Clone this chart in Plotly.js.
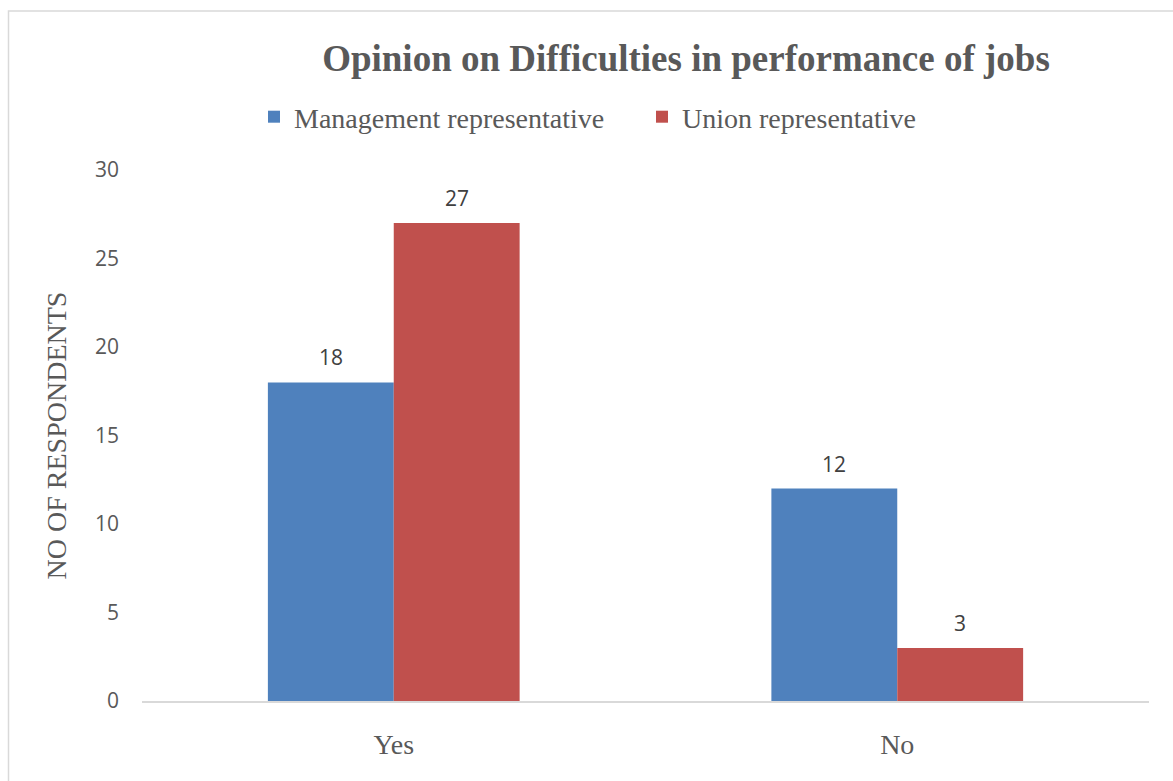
<!DOCTYPE html>
<html>
<head>
<meta charset="utf-8">
<script src="https://cdn.plot.ly/plotly-3.0.1.min.js"></script>
<style>
  html, body { margin: 0; padding: 0; background: #ffffff; }
  #chart { width: 1173px; height: 781px; }
</style>
</head>
<body>
<div id="chart"></div>
<script>
// ---- data ----
var categories = ['Yes', 'No'];
var seriesNames = ['Management representative', 'Union representative'];
var managementValues = [18, 12];
var unionValues = [27, 3];
var yTickValues = [0, 5, 10, 15, 20, 25, 30];

// ---- styles ----
var blue = '#4F81BD';
var red = '#C0504D';
var grey = '#595959';
var serif = '"Liberation Serif", "Times New Roman", serif';
var sans = '"Open Sans", "Liberation Sans", sans-serif';

var W = 1173, H = 781;
var margin = { l: 142, r: 24, t: 170, b: 80 };
var plotW = W - margin.l - margin.r;
var plotH = H - margin.t - margin.b;
function px2paperX(px) { return (px - margin.l) / plotW; }
function px2paperY(py) { return (H - margin.b - py) / plotH; }

var traces = [
  {
    type: 'bar', name: seriesNames[0], x: categories, y: managementValues,
    marker: { color: blue, line: { width: 0 } }, hoverinfo: 'x+y+name'
  },
  {
    type: 'bar', name: seriesNames[1], x: categories, y: unionValues,
    marker: { color: red, line: { width: 0 } }, hoverinfo: 'x+y+name'
  }
];

var halfBarPx = plotW / categories.length * 0.5 / 2 / 2; // half of one bar's width
var annotations = [];
[managementValues, unionValues].forEach(function (vals, s) {
  vals.forEach(function (v, i) {
    annotations.push({
      x: categories[i], y: v, xref: 'x', yref: 'y',
      text: String(v), showarrow: false,
      xshift: (s === 0 ? -1 : 1) * halfBarPx,
      yshift: 25, yanchor: 'middle', xanchor: 'center',
      font: { family: sans, size: 21, color: '#404040' }
    });
  });
});

var layout = {
  width: W, height: H,
  margin: margin,
  paper_bgcolor: '#ffffff', plot_bgcolor: '#ffffff',
  barmode: 'group', bargap: 0.5, bargroupgap: 0,
  title: {
    text: '<b>Opinion on Difficulties in performance of jobs</b>',
    font: { family: serif, size: 37, color: grey },
    x: 686 / W, xref: 'container', xanchor: 'center',
    y: 1 - 58 / H, yref: 'container', yanchor: 'middle'
  },
  showlegend: true,
  legend: {
    orientation: 'h',
    x: px2paperX(254), xanchor: 'left',
    y: px2paperY(117), yanchor: 'middle',
    font: { family: serif, size: 28, color: grey },
    bgcolor: 'rgba(0,0,0,0)', borderwidth: 0,
    entrywidth: 343, entrywidthmode: 'pixels',
    itemclick: false, itemdoubleclick: false
  },
  xaxis: {
    type: 'category', categoryorder: 'array', categoryarray: categories,
    showgrid: false, zeroline: false,
    showline: true, linecolor: '#D9D9D9', linewidth: 2,
    ticks: '', ticklabelstandoff: 17,
    tickfont: { family: serif, size: 28, color: grey },
    fixedrange: true
  },
  yaxis: {
    range: [0, 30], tickvals: yTickValues, ticktext: yTickValues.map(String),
    showgrid: false, zeroline: false, showline: false,
    ticks: '', ticklabelstandoff: 22,
    tickfont: { family: sans, size: 21, color: grey },
    title: {
      text: 'NO OF RESPONDENTS', standoff: 20,
      font: { family: serif, size: 28, color: grey }
    },
    fixedrange: true
  },
  annotations: annotations,
  shapes: [
    {
      type: 'rect', xref: 'paper', yref: 'paper',
      x0: px2paperX(8.5), x1: px2paperX(1200),
      y0: px2paperY(800), y1: px2paperY(11),
      line: { color: '#D9D9D9', width: 1.5 }, fillcolor: 'rgba(0,0,0,0)',
      layer: 'below'
    }
  ]
};

Plotly.newPlot('chart', traces, layout, { displayModeBar: false, responsive: false, staticPlot: false });
</script>
</body>
</html>
